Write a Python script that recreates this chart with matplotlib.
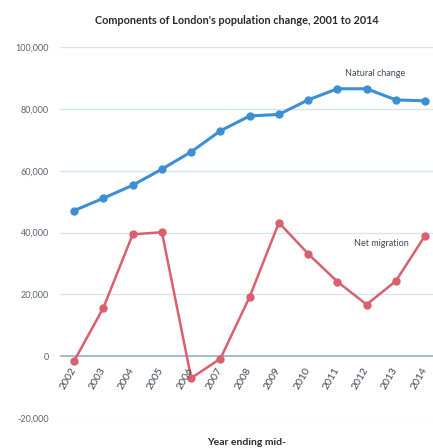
import numpy as np
import matplotlib
matplotlib.use('Agg')
import matplotlib.pyplot as plt

plt.rcParams['font.family'] = ['Lato', 'DejaVu Sans']

years = ['2002', '2003', '2004', '2005', '2006', '2007', '2008',
         '2009', '2010', '2011', '2012', '2013', '2014']
natural_change = [47100, 51100, 55300, 60500, 66100, 72900, 77700,
                  78200, 82900, 86500, 86500, 82900, 82600]
net_migration = [-1500, 15700, 39400, 40100, -7100, -800, 19200,
                 43200, 33100, 24100, 16700, 24300, 39000]
y_ticks = [-20000, 0, 20000, 40000, 60000, 80000, 100000]

blue = '#3d8fd4'
red = '#d9606e'

fig = plt.figure(figsize=(4.33, 4.48), dpi=100)
ax = fig.add_axes([0.139, 0.067, 0.861, 0.828])

x = np.arange(len(years))

for yt in y_ticks:
    if yt == 0:
        ax.axhline(yt, color='#8fb3c4', lw=1.2, zorder=1)
    else:
        ax.axhline(yt, color='#d4e6ef', lw=1.0, zorder=1)

ax.plot(x, natural_change, color=blue, lw=2.2, marker='o', ms=5, zorder=3)
ax.plot(x, net_migration, color=red, lw=1.8, marker='o', ms=5, zorder=3)

ax.set_xlim(-0.48, 12.27)
ax.set_ylim(-20000, 100000)
ax.set_xticks([])
ax.set_yticks(y_ticks)
ax.set_yticklabels(['{:,}'.format(v) for v in y_ticks], fontsize=6.5, color='#5a6470')
ax.tick_params(axis='y', length=0, pad=8)
for s in ax.spines.values():
    s.set_visible(False)

for i, yr in enumerate(years):
    ax.text(i + 0.12, -3200, yr, rotation=60, ha='right', va='top',
            fontsize=7.5, color='#3f4a55')

ax.text(10.3, 91500, 'Natural change', ha='center', va='center', fontsize=6.5, color='#3f4a55')
ax.text(10.5, 36300, 'Net migration', ha='center', va='center', fontsize=6.5, color='#3f4a55')

fig.text(0.548, 0.955, "Components of London's population change, 2001 to 2014",
         ha='center', va='center', fontsize=7.8, fontweight='bold', color='#2b2b2b')
fig.text(0.57, 0.012, 'Year ending mid-', ha='center', va='center',
         fontsize=7.5, fontweight='bold', color='#2b2b2b')

fig.savefig('out.png', dpi=100)
